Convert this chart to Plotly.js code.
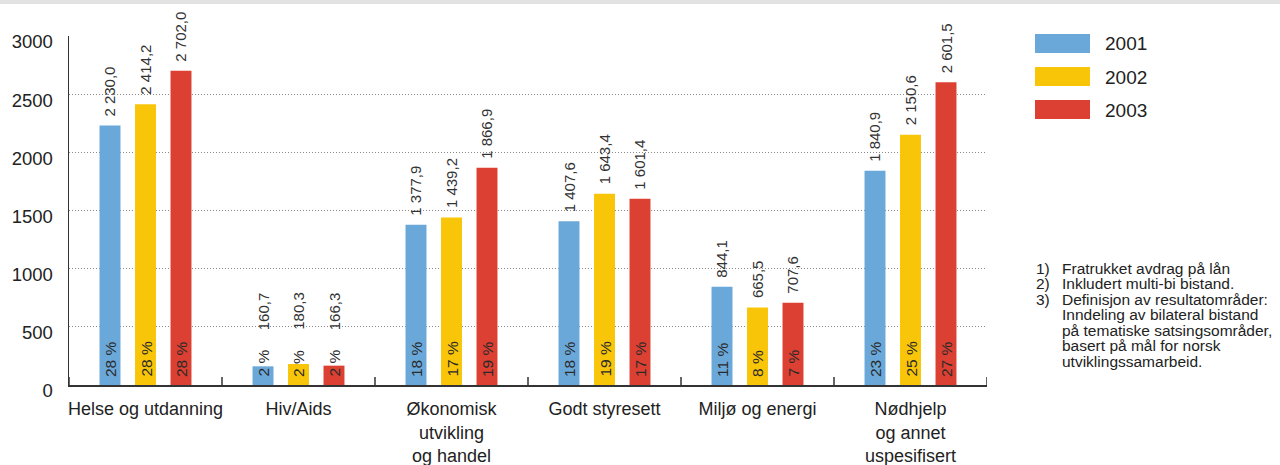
<!DOCTYPE html>
<html>
<head>
<meta charset="utf-8">
<script src="https://cdn.plot.ly/plotly-3.0.1.min.js"></script>
<style>html,body{margin:0;padding:0;background:#fff;}#chart{width:1280px;height:465px;}</style>
</head>
<body>
<div id="chart"></div>
<script>
// ---- data ----
const categories = ["Helse og utdanning", "Hiv/Aids", "Økonomisk<br>utvikling<br>og handel", "Godt styresett", "Miljø og energi", "Nødhjelp<br>og annet<br>uspesifisert"];
const seriesNames = ["2001", "2002", "2003"];
const values2001 = [2230.0, 160.7, 1377.9, 1407.6, 844.1, 1840.9];
const values2002 = [2414.2, 180.3, 1439.2, 1643.4, 665.5, 2150.6];
const values2003 = [2702.0, 166.3, 1866.9, 1601.4, 707.6, 2601.5];
const pct2001 = ["28 %", "2 %", "18 %", "18 %", "11 %", "23 %"];
const pct2002 = ["28 %", "2 %", "17 %", "19 %", "8 %", "25 %"];
const pct2003 = ["28 %", "2 %", "19 %", "17 %", "7 %", "27 %"];
const yTickVals = [0, 500, 1000, 1500, 2000, 2500, 3000];
const footnoteNums = ["1)", "2)", "3)"];
const footnoteLines = [
  ["Fratrukket avdrag på lån"],
  ["Inkludert multi-bi bistand."],
  ["Definisjon av resultatområder:", "Inndeling av bilateral bistand", "på tematiske satsingsområder,", "basert på mål for norsk", "utviklingssamarbeid."]
];

// ---- style ----
const colors = ["#6aa8d9", "#f8c508", "#dc4032"];
const FONT = "Liberation Sans, Arial, sans-serif";
const W = 1280, H = 465, L = 69, R = 293, T = 36, B = 80;
const plotW = W - L - R, plotH = H - T - B;
const YMAX = 3000;
const px = x => (x - L) / plotW;          // pixel -> paper x
const py = y => (H - B - y) / plotH;      // pixel -> paper y

const allValues = [values2001, values2002, values2003];
const allPct = [pct2001, pct2002, pct2003];
const bargap = 0.304, bargroupgap = 0.41;
const slot = (1 - bargap) / 3;
const PCT_SIZE = 15.5, PCT_SHIFT = 7;

function fmt(v) {
  const s = v.toFixed(1).split(".");
  const intPart = s[0].replace(/\B(?=(\d{3})+(?!\d))/g, " ");
  return intPart + "," + s[1];
}
// rough rendered length of a percentage label (Arial metrics)
function pctLen(t) {
  let w = 0;
  for (const c of t) w += (c === "%") ? 0.889 : (c === " ") ? 0.278 : 0.556;
  return w * PCT_SIZE;
}

const idx = categories.map((_, i) => i);
const traces = allValues.map((vals, k) => ({
  type: "bar",
  x: idx,
  y: vals,
  name: seriesNames[k],
  marker: {color: colors[k]},
  showlegend: false,
  hoverinfo: "skip"
}));

const annotations = [];
allValues.forEach((vals, k) => {
  vals.forEach((v, i) => {
    const xpos = i + (k - 1) * slot;
    const barH = v / YMAX * plotH;
    const pctTop = PCT_SHIFT + pctLen(allPct[k][i]);
    const shift = Math.max(7, pctTop + 19 - barH);
    annotations.push({
      x: xpos, y: v, xref: "x", yref: "y",
      text: fmt(v), textangle: -90, showarrow: false,
      xanchor: "center", yanchor: "bottom", yshift: shift,
      font: {family: FONT, size: 15, color: "#333"}
    });
    annotations.push({
      x: xpos, y: 0, xref: "x", yref: "y",
      text: allPct[k][i], textangle: -90, showarrow: false,
      xanchor: "center", yanchor: "bottom", yshift: PCT_SHIFT - 1,
      font: {family: FONT, size: PCT_SIZE, color: "#2a2a2a"}
    });
  });
});

// legend (manual)
const shapes = [];
seriesNames.forEach((name, k) => {
  const top = 34 + k * 33;
  shapes.push({
    type: "rect", xref: "paper", yref: "paper",
    x0: px(1035), x1: px(1090), y0: py(top + 19), y1: py(top),
    fillcolor: colors[k], line: {width: 0}
  });
  annotations.push({
    xref: "paper", yref: "paper", x: px(1103), y: py(top + 10),
    xanchor: "left", yanchor: "middle", showarrow: false,
    text: name, font: {family: FONT, size: 19, color: "#222"}
  });
});

// footnotes
let line = 0;
footnoteLines.forEach((lines, n) => {
  annotations.push({
    xref: "paper", yref: "paper", x: px(1034), y: py(268 + line * 15.5),
    xanchor: "left", yanchor: "middle", showarrow: false,
    text: footnoteNums[n], font: {family: FONT, size: 15.5, color: "#222"}
  });
  lines.forEach(t => {
    annotations.push({
      xref: "paper", yref: "paper", x: px(1060), y: py(268 + line * 15.5),
      xanchor: "left", yanchor: "middle", showarrow: false,
      text: t, font: {family: FONT, size: 15.5, color: "#222"}
    });
    line++;
  });
});

// top grey band
shapes.push({
  type: "rect", xref: "paper", yref: "paper",
  x0: px(0), x1: px(W), y0: py(4), y1: py(0),
  fillcolor: "#e2e2e2", line: {width: 0}, layer: "below"
});

// boundary tick marks between categories (inside, upward)
for (let b = 0; b <= categories.length; b++) {
  shapes.push({
    type: "line", xref: "x", yref: "paper",
    x0: b - 0.5, x1: b - 0.5, y0: 0, y1: 8 / plotH,
    line: {color: "#333", width: 1.5}
  });
}

const layout = {
  width: W, height: H,
  margin: {l: L, r: R, t: T, b: B, pad: 0},
  paper_bgcolor: "#fff", plot_bgcolor: "#fff",
  barmode: "group", bargap: bargap, bargroupgap: bargroupgap,
  showlegend: false,
  font: {family: FONT, color: "#222"},
  xaxis: {
    type: "linear",
    range: [-0.5, 5.5],
    tickmode: "array",
    tickvals: idx,
    ticktext: categories,
    ticks: "",
    showgrid: false, zeroline: false,
    showline: true, linecolor: "#333", linewidth: 1.5,
    tickfont: {family: FONT, size: 18, color: "#222"},
    ticklabelstandoff: 7,
    fixedrange: true
  },
  yaxis: {
    range: [0, YMAX],
    tickmode: "array",
    tickvals: yTickVals,
    ticktext: yTickVals.map(String),
    ticks: "",
    showgrid: true, gridcolor: "#8a8a8a", griddash: "1px,2px", gridwidth: 1,
    zeroline: false,
    showline: true, linecolor: "#333", linewidth: 1.5,
    tickfont: {family: FONT, size: 18.5, color: "#222"},
    ticklabelstandoff: 11,
    ticklabelshift: 6,
    fixedrange: true
  },
  annotations: annotations,
  shapes: shapes
};

Plotly.newPlot("chart", traces, layout, {displayModeBar: false, staticPlot: true});
</script>
</body>
</html>
